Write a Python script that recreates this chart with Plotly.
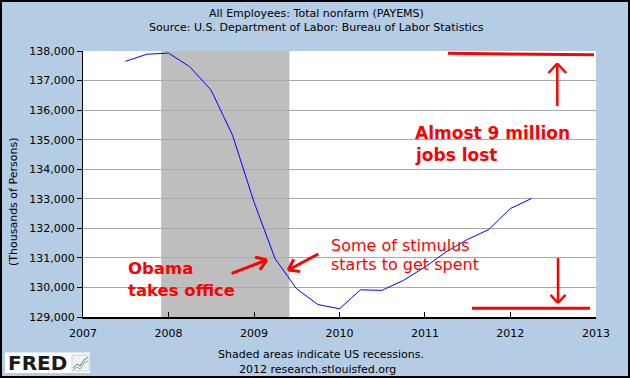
import plotly.graph_objects as go
import math

# ---------------- data ----------------
dates = ["2007-07-01", "2007-10-01", "2008-01-01", "2008-04-01", "2008-07-01",
         "2008-10-01", "2009-01-01", "2009-04-01", "2009-07-01", "2009-10-01",
         "2010-01-01", "2010-04-01", "2010-07-01", "2010-10-01", "2011-01-01",
         "2011-04-01", "2011-07-01", "2011-10-01", "2012-01-01", "2012-04-01"]
payems = [137650, 137890, 137930, 137470, 136680,
          135150, 132880, 130970, 129960, 129420,
          129280, 129920, 129900, 130240, 130690,
          131200, 131620, 131960, 132670, 133010]
recession_start = "2007-12-01"
recession_end = "2009-06-01"
year_ticks = ["2007-01-01", "2008-01-01", "2009-01-01", "2010-01-01",
              "2011-01-01", "2012-01-01", "2013-01-01"]
year_labels = ["2007", "2008", "2009", "2010", "2011", "2012", "2013"]
y_ticks = [129000, 130000, 131000, 132000, 133000, 134000, 135000, 136000, 137000, 138000]

title_line1 = "All Employees: Total nonfarm (PAYEMS)"
title_line2 = "Source: U.S. Department of Labor: Bureau of Labor Statistics"
y_title = "(Thousands of Persons)"
footer1 = "Shaded areas indicate US recessions."
footer2 = "2012 research.stlouisfed.org"

# ---------------- layout geometry (pixels) ----------------
W, H = 630, 378
L, R, T, B = 83, 596, 51, 317


def PX(x):
    return (x - L) / (R - L)


def PY(y):
    return (B - y) / (B - T)


RED = "#FF0000"
FONT = "DejaVu Sans"

fig = go.Figure()
fig.add_trace(go.Scatter(x=dates, y=payems, mode="lines",
                         line=dict(color="#0000FF", width=1),
                         hoverinfo="skip", showlegend=False))

shapes = []
# recession shading
shapes.append(dict(type="rect", xref="x", yref="paper", x0=recession_start, x1=recession_end,
                   y0=0, y1=1, fillcolor="#BEBEBE", line=dict(width=0), layer="between"))


def seg(x0, y0, x1, y1, w=3, color=RED):
    return dict(type="line", xref="paper", yref="paper",
                x0=PX(x0), y0=PY(y0), x1=PX(x1), y1=PY(y1),
                line=dict(color=color, width=w), layer="above")


def arrow(tx, ty, hx, hy, w=3, wing=12, ang=38):
    out = [seg(tx, ty, hx, hy, w)]
    dx, dy = tx - hx, ty - hy
    d = math.hypot(dx, dy)
    ux, uy = dx / d, dy / d
    for s in (1, -1):
        a = math.radians(ang * s)
        wx = ux * math.cos(a) - uy * math.sin(a)
        wy = ux * math.sin(a) + uy * math.cos(a)
        out.append(seg(hx, hy, hx + wx * wing, hy + wy * wing, w))
    return out


# red annotation lines / arrows
shapes.append(seg(448, 53.3, 594, 54.7, 3))
shapes.append(seg(472, 308.3, 590, 308.3, 3))
shapes += arrow(557.3, 106, 557.3, 63.5, w=2.5, wing=13, ang=43)
shapes += arrow(558, 258, 558, 303, w=2.5, wing=11, ang=43)
shapes += arrow(231.7, 273.3, 266.7, 260, w=3, wing=12, ang=35)
shapes += arrow(318.3, 254, 288.3, 270, w=3, wing=12, ang=35)

# FRED logo box and tiny icon
shapes.append(dict(type="rect", xref="paper", yref="paper", x0=PX(5), x1=PX(90),
                   y0=PY(373), y1=PY(352.5), fillcolor="white", line=dict(width=0), layer="above"))
shapes.append(dict(type="rect", xref="paper", yref="paper", x0=PX(72), x1=PX(89),
                   y0=PY(371), y1=PY(355), fillcolor="#F2F2F2", line=dict(color="#D0D0D0", width=1),
                   layer="above"))
shapes.append(dict(type="path", xref="paper", yref="paper",
                   path="M %f,%f L %f,%f L %f,%f L %f,%f L %f,%f" % (
                       PX(73), PY(368), PX(77), PY(364), PX(80), PY(366), PX(84), PY(360), PX(88), PY(357)),
                   line=dict(color="#4A7BB7", width=1), layer="above"))
shapes.append(dict(type="path", xref="paper", yref="paper",
                   path="M %f,%f L %f,%f L %f,%f L %f,%f L %f,%f" % (
                       PX(73), PY(370), PX(77), PY(367), PX(80), PY(369), PX(84), PY(363), PX(88), PY(361)),
                   line=dict(color="#7DB050", width=1), layer="above"))

# outer black border
shapes.append(dict(type="rect", xref="paper", yref="paper", x0=PX(1), x1=PX(629),
                   y0=PY(377), y1=PY(1), line=dict(color="black", width=2), layer="above"))

annotations = []


def text(x, y, s, size=11, bold=False, color="black", xanchor="left", angle=0):
    annotations.append(dict(xref="paper", yref="paper", x=PX(x), y=PY(y), text=("<b>%s</b>" % s) if bold else s,
                            showarrow=False, xanchor=xanchor, yanchor="middle", textangle=angle,
                            font=dict(family=FONT, size=size, color=color)))


text(316, 13, title_line1, xanchor="center")
text(316, 28, title_line2, xanchor="center")
text(13, 202, y_title, angle=-90, xanchor="center")
text(321, 354, footer1, xanchor="center")
text(317, 369, footer2, xanchor="center")

text(413, 132.5, "Almost 9 million", size=17, bold=True, color=RED)
text(413, 155, "jobs lost", size=17, bold=True, color=RED)
text(126, 268, "Obama", size=16.5, bold=True, color=RED)
text(126, 290.5, "takes office", size=16.5, bold=True, color=RED)
text(329, 246, "Some of stimulus", size=16, color=RED)
text(329, 264, "starts to get spent", size=16, color=RED)
text(6, 363, "FRED", size=20, bold=True, color="#1A1A1A")

fig.update_layout(
    width=W, height=H,
    margin=dict(l=L, r=W - R, t=T, b=H - B, pad=0),
    paper_bgcolor="#B4CDE4",
    plot_bgcolor="white",
    showlegend=False,
    shapes=shapes,
    annotations=annotations,
    font=dict(family=FONT, size=11, color="black"),
    xaxis=dict(type="date", range=["2007-01-01", "2013-01-01"],
               tickvals=year_ticks, ticktext=year_labels,
               ticks="inside", ticklen=5, tickcolor="black", tickwidth=1,
               showline=True, linecolor="black", linewidth=2,
               showgrid=False, zeroline=False, ticklabelstandoff=5,
               tickfont=dict(family=FONT, size=11, color="black")),
    yaxis=dict(range=[129000, 138000], tickvals=y_ticks, tickformat=",d",
               ticks="outside", ticklen=5, tickcolor="black", tickwidth=1,
               showline=True, linecolor="black", linewidth=1,
               showgrid=True, gridcolor="#AAAAAA", gridwidth=1, zeroline=False,
               tickfont=dict(family=FONT, size=11, color="black")),
)

fig.write_html("out.html", config={"displayModeBar": False},
               post_script="document.body.style.margin='0';document.body.style.overflow='hidden';")
